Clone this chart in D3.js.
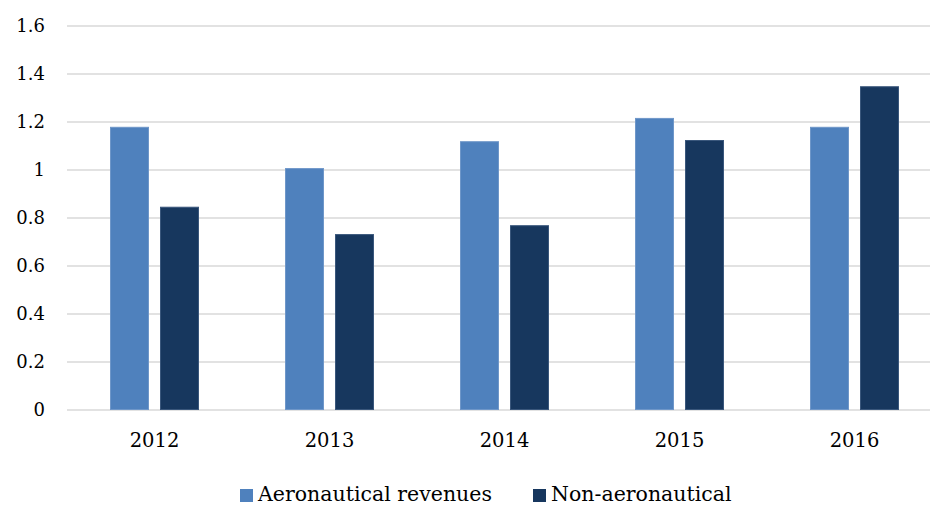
<!DOCTYPE html>
<html>
<head>
<meta charset="utf-8">
<script src="https://cdn.jsdelivr.net/npm/d3@7"></script>
<style>
  body { margin: 0; background: #fff; }
  text { font-family: "DejaVu Serif", Georgia, serif; fill: #000; }
</style>
</head>
<body>
<div id="chart"></div>
<script>
var years = ["2012", "2013", "2014", "2015", "2016"];
var seriesNames = ["Aeronautical revenues", "Non-aeronautical"];
var aero = [1.18, 1.008, 1.12, 1.217, 1.18];
var nonAero = [0.847, 0.733, 0.77, 1.125, 1.349];
var yTicks = [0, 0.2, 0.4, 0.6, 0.8, 1, 1.2, 1.4, 1.6];
var colors = ["#4f81bd", "#17375e"];
var strokes = ["#6f97c9", "#3a577c"];

var width = 930, height = 506;

var svg = d3.select("#chart").append("svg")
    .attr("width", width)
    .attr("height", height);

var x = d3.scaleBand()
    .domain(years)
    .range([67, 942])
    .paddingInner(0)
    .paddingOuter(0);

var inner = d3.scaleBand()
    .domain(seriesNames)
    .range([43, 175 - 43])
    .paddingInner(0.22);

var y = d3.scaleLinear()
    .domain([0, 1.6])
    .range([410, 26]);

// gridlines
svg.append("g").selectAll("line")
  .data(yTicks)
  .enter().append("line")
    .attr("x1", 67)
    .attr("x2", 942)
    .attr("y1", function(d) { return y(d); })
    .attr("y2", function(d) { return y(d); })
    .attr("stroke", "#d9d9d9")
    .attr("stroke-width", 1.5);

// y labels
svg.append("g").selectAll("text")
  .data(yTicks)
  .enter().append("text")
    .attr("x", 45)
    .attr("y", function(d) { return y(d) + 6; })
    .attr("text-anchor", "end")
    .style("font-size", "18px")
    .text(function(d) { return d; });

var rows = years.map(function(yr, i) {
  return { year: yr, vals: [aero[i], nonAero[i]] };
});

var groups = svg.append("g").selectAll("g")
  .data(rows)
  .enter().append("g")
    .attr("transform", function(d) { return "translate(" + x(d.year) + ",0)"; });

groups.selectAll("rect")
  .data(function(d) { return d.vals.map(function(v, j) { return { name: seriesNames[j], v: v, j: j }; }); })
  .enter().append("rect")
    .attr("x", function(d) { return inner(d.name) + 0.5; })
    .attr("y", function(d) { return y(d.v) + 0.5; })
    .attr("width", inner.bandwidth() - 1)
    .attr("height", function(d) { return y(0) - y(d.v) - 1; })
    .attr("fill", function(d) { return colors[d.j]; })
    .attr("stroke", function(d) { return strokes[d.j]; })
    .attr("stroke-width", 1);

// x labels
svg.append("g").selectAll("text")
  .data(years)
  .enter().append("text")
    .attr("x", function(d) { return x(d) + x.bandwidth() / 2; })
    .attr("y", 447)
    .attr("text-anchor", "middle")
    .style("font-size", "19.5px")
    .text(function(d) { return d; });

// legend
var legendX = [240, 533];
var legend = svg.append("g").selectAll("g")
  .data(seriesNames)
  .enter().append("g")
    .attr("transform", function(d, i) { return "translate(" + legendX[i] + ",0)"; });

legend.append("rect")
    .attr("x", 0)
    .attr("y", 489)
    .attr("width", 13)
    .attr("height", 13)
    .attr("fill", function(d, i) { return colors[i]; });

legend.append("text")
    .attr("x", 18)
    .attr("y", 501)
    .style("font-size", "20.5px")
    .text(function(d) { return d; });
</script>
</body>
</html>
